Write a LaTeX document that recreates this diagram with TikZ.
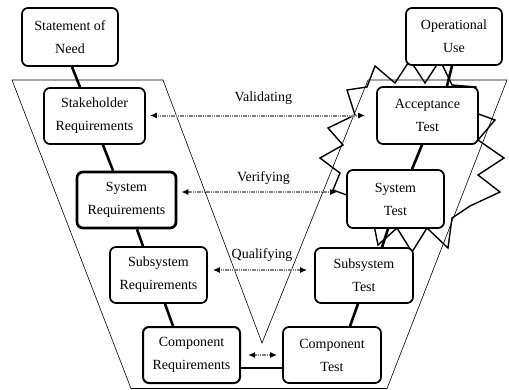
\documentclass[tikz,border=0pt]{standalone}
\usepackage{fontspec}
\setmainfont{Liberation Serif}
\usetikzlibrary{arrows.meta}
\begin{document}
\begin{tikzpicture}[x=1pt,y=-1pt,
  box/.style={draw=black, fill=white, rounded corners=6pt, line width=1.7pt,
    align=center, inner sep=0pt, font=\fontsize{14}{23}\selectfont},
  boldbox/.style={box, line width=2.7pt},
  link/.style={line width=2.6pt, black},
  vline/.style={draw=black, line width=0.6pt},
  burst/.style={draw=black, line width=1.4pt, line join=miter},
  trace/.style={draw=black!50, line width=2pt, dash pattern=on 1.2pt off 0.6pt,
    {Latex[length=7pt,width=6pt,color=black]}-{Latex[length=7pt,width=6pt,color=black]}},
  tag/.style={font=\fontsize{14}{17}\selectfont, inner sep=0pt}
]
\useasboundingbox (0,0) rectangle (509,389);

% V outline
\draw[vline] (12,80) -- (163,80) -- (262,343) -- (368,80) -- (507,80)
  -- (387,388.5) -- (131,388.5) -- cycle;

% starburst
\draw[burst] (347,90) -- (367,87) -- (375,66) -- (395,83) -- (410,60)
  -- (425,83) -- (440,60) -- (452,85) -- (476,87) -- (473,112)
  -- (495,120) -- (478,140) -- (504,158) -- (478,175) -- (500,192)
  -- (470,206) -- (452,218) -- (448,248) -- (427,228) -- (412,252)
  -- (397,228) -- (378,245) -- (373,220) -- (348,225) -- (355,198)
  -- (333,190) -- (340,173) -- (320,158) -- (343,145) -- (328,128)
  -- (355,115) -- cycle;

% boxes
\node[box, minimum width=96pt, minimum height=58pt] (need) at (70,37) {Statement of\\Need};
\node[box, minimum width=96pt, minimum height=57pt] (opuse) at (454,36.5) {Operational\\Use};
\node[box, minimum width=101pt, minimum height=56pt] (stake) at (94.5,116) {Stakeholder\\Requirements};
\node[box, minimum width=101pt, minimum height=57pt] (accept) at (427.5,115.5) {Acceptance\\Test};
\node[boldbox, minimum width=99pt, minimum height=56pt] (sysreq) at (126.5,200) {System\\Requirements};
\node[box, minimum width=97pt, minimum height=58pt] (systest) at (395.5,199) {System\\Test};
\node[box, minimum width=97pt, minimum height=56pt] (subreq) at (158.5,275) {Subsystem\\Requirements};
\node[box, minimum width=98pt, minimum height=55pt] (subtest) at (364,275.5) {Subsystem\\Test};
\node[box, line width=2pt, minimum width=97pt, minimum height=56pt] (compreq) at (191.5,355) {Component\\Requirements};
\node[box, minimum width=98pt, minimum height=56pt] (comptest) at (332,355) {Component\\Test};

% solid links
\draw[link] ([xshift=2pt]need.south) -- ([xshift=-14.5pt]stake.north);
\draw[link] ([xshift=8.5pt]stake.south) -- ([xshift=-13.5pt]sysreq.north);
\draw[link] ([xshift=10.5pt]sysreq.south) -- ([xshift=-15.5pt]subreq.north);
\draw[link] ([xshift=6.5pt]subreq.south) -- ([xshift=-18.5pt]compreq.north);
\draw[link] ([yshift=-13pt]compreq.east) -- ([yshift=-13pt]comptest.west);
\draw[link] ([xshift=18pt]comptest.north) -- ([xshift=-6pt]subtest.south);
\draw[link] ([xshift=18pt]subtest.north) -- ([xshift=-7.5pt]systest.south);
\draw[link] ([xshift=16.5pt]systest.north) -- ([xshift=-5.5pt]accept.south);
\draw[link] ([xshift=19.5pt]accept.north) -- ([xshift=-2pt]opuse.south);

% dotted traces
\draw[trace, shorten <=4pt, shorten >=11pt] ([yshift=0.5pt]stake.east) -- (accept.west)
  node[tag, pos=0.51, yshift=17pt] {Validating};
\draw[trace, shorten <=4pt, shorten >=9pt] ([yshift=8pt]sysreq.east) -- ([yshift=7pt]systest.west)
  node[tag, pos=0.51, yshift=14pt] {Verifying};
\draw[trace, shorten <=5pt, shorten >=7pt] ([yshift=5pt]subreq.east) -- ([yshift=5.5pt]subtest.west)
  node[tag, pos=0.51, yshift=15pt] {Qualifying};
\draw[trace, shorten <=7pt, shorten >=5pt] (compreq.east) -- (comptest.west);
\end{tikzpicture}
\end{document}
